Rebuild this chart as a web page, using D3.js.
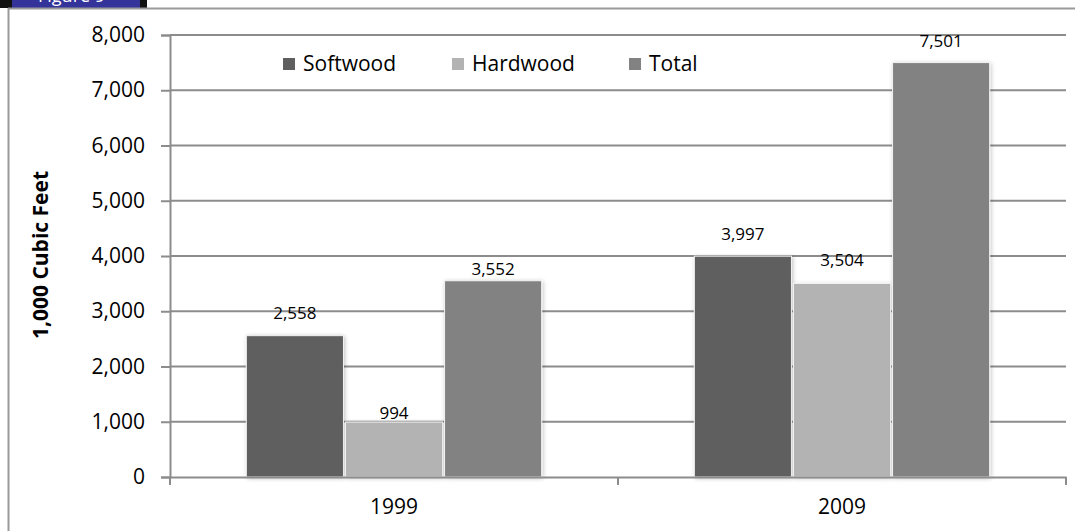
<!DOCTYPE html>
<html>
<head>
<meta charset="utf-8">
<script src="https://cdn.jsdelivr.net/npm/d3@7/dist/d3.min.js"></script>
<style>
  html, body { margin: 0; padding: 0; background: #fff; }
  svg { display: block; font-family: "Open Sans", "Liberation Sans", sans-serif; }
</style>
</head>
<body>
<svg id="chart" width="1075" height="531"></svg>
<script>
// ---- data ----
const categories = ["1999", "2009"];
const seriesNames = ["Softwood", "Hardwood", "Total"];
const softwood = [2558, 3997];
const hardwood = [994, 3504];
const total = [3552, 7501];
const yTicks = [0, 1000, 2000, 3000, 4000, 5000, 6000, 7000, 8000];
const yTitle = "1,000 Cubic Feet";

// ---- styles ----
const colors = ["#5f5f5f", "#b3b3b3", "#828282"];
const gridColor = "#8c8c8c";
const seriesValues = [softwood, hardwood, total];
// per-bar label lift (px above bar top to text baseline), as placed in the original
const labelLift = [[17, 3, 6], [16, 17, 16]];

const svg = d3.select("#chart");
const margin = { left: 170, right: 1066, top: 35, bottom: 477 };

const x0 = d3.scaleBand().domain(categories).range([margin.left, margin.right]).paddingInner(0).paddingOuter(0);
const x1 = d3.scaleBand().domain(seriesNames).range([0, x0.bandwidth()]).paddingOuter(0.77).paddingInner(0.02);
const y = d3.scaleLinear().domain([0, 8000]).range([margin.bottom, margin.top]);

// frame + title tab
svg.append("rect").attr("x", 0).attr("y", 0).attr("width", 147).attr("height", 8).attr("fill", "#111");
svg.append("rect").attr("x", 12).attr("y", 0).attr("width", 128).attr("height", 8).attr("fill", "#33339a");
svg.append("text").attr("x", 38).attr("y", 2).attr("fill", "#fff").attr("font-size", 18).text("Figure 9");
svg.append("line").attr("x1", 8).attr("x2", 1075).attr("y1", 8.5).attr("y2", 8.5).attr("stroke", "#999").attr("stroke-width", 2);
svg.append("line").attr("x1", 8.5).attr("x2", 8.5).attr("y1", 8).attr("y2", 531).attr("stroke", "#999").attr("stroke-width", 2);

// shadow filter
const defs = svg.append("defs");
const f = defs.append("filter").attr("id", "sh").attr("x", "-10%").attr("y", "-10%").attr("width", "120%").attr("height", "120%");
f.append("feGaussianBlur").attr("in", "SourceAlpha").attr("stdDeviation", 2).attr("result", "b");
f.append("feOffset").attr("in", "b").attr("dx", 1).attr("dy", 1).attr("result", "o");
f.append("feComponentTransfer").attr("in", "o").attr("result", "o2")
  .append("feFuncA").attr("type", "linear").attr("slope", 0.25);
const fm = f.append("feMerge");
fm.append("feMergeNode").attr("in", "o2");
fm.append("feMergeNode").attr("in", "SourceGraphic");

// gridlines
svg.append("g").selectAll("line").data(yTicks.filter(d => d > 0)).join("line")
  .attr("x1", margin.left).attr("x2", margin.right)
  .attr("y1", d => y(d)).attr("y2", d => y(d))
  .attr("stroke", gridColor).attr("stroke-width", 2);

// y axis
const yAxis = d3.axisLeft(y).tickValues(yTicks).tickSize(9).tickPadding(16).tickFormat(d3.format(","));
const gy = svg.append("g").attr("transform", `translate(${margin.left},0)`).call(yAxis);
gy.select(".domain").attr("stroke", gridColor).attr("stroke-width", 2);
gy.selectAll(".tick line").attr("stroke", gridColor).attr("stroke-width", 2);
gy.selectAll(".tick text").attr("font-size", 21).attr("fill", "#000").attr("font-family", "Open Sans");

// bars
const groups = svg.append("g").selectAll("g").data(categories).join("g")
  .attr("transform", d => `translate(${x0(d)},0)`);
groups.selectAll("rect").data((c, ci) => seriesNames.map((s, si) => ({ s, si, ci, v: seriesValues[si][ci] }))).join("rect")
  .attr("x", d => x1(d.s)).attr("width", x1.bandwidth())
  .attr("y", d => y(d.v)).attr("height", d => y(0) - y(d.v))
  .attr("fill", d => colors[d.si]).attr("stroke", "#f4f4f4").attr("stroke-width", 1)
  .attr("filter", "url(#sh)");
groups.selectAll("text").data((c, ci) => seriesNames.map((s, si) => ({ s, si, ci, v: seriesValues[si][ci] }))).join("text")
  .attr("x", d => x1(d.s) + x1.bandwidth() / 2)
  .attr("y", d => y(d.v) - labelLift[d.ci][d.si])
  .attr("text-anchor", "middle").attr("font-size", 17).attr("fill", "#000")
  .text(d => d3.format(",")(d.v));

// x axis
const xAxis = d3.axisBottom(x0).tickSize(0).tickPadding(22);
const gx = svg.append("g").attr("transform", `translate(0,${margin.bottom})`).call(xAxis);
gx.select(".domain").attr("stroke", gridColor).attr("stroke-width", 2);
gx.selectAll(".tick text").attr("font-size", 21).attr("fill", "#000").attr("font-family", "Open Sans");
// category separator ticks
const sepTicks = [margin.left, ...categories.map(c => x0(c) + x0.bandwidth())];
svg.append("g").selectAll("line").data(sepTicks).join("line")
  .attr("x1", d => d).attr("x2", d => d).attr("y1", margin.bottom).attr("y2", margin.bottom + 8)
  .attr("stroke", gridColor).attr("stroke-width", 2);

// y title
svg.append("text").attr("transform", `translate(48,255) rotate(-90)`)
  .attr("text-anchor", "middle").attr("font-size", 21).attr("font-weight", "bold").attr("fill", "#000")
  .text(yTitle);

// legend
const legendX = [283, 452, 629];
const lg = svg.append("g").selectAll("g").data(seriesNames).join("g")
  .attr("transform", (d, i) => `translate(${legendX[i]},58)`);
lg.append("rect").attr("width", 12).attr("height", 12).attr("fill", (d, i) => colors[i]);
lg.append("text").attr("x", 20).attr("y", 13).attr("font-size", 21).attr("fill", "#000").text(d => d);
</script>
</body>
</html>
